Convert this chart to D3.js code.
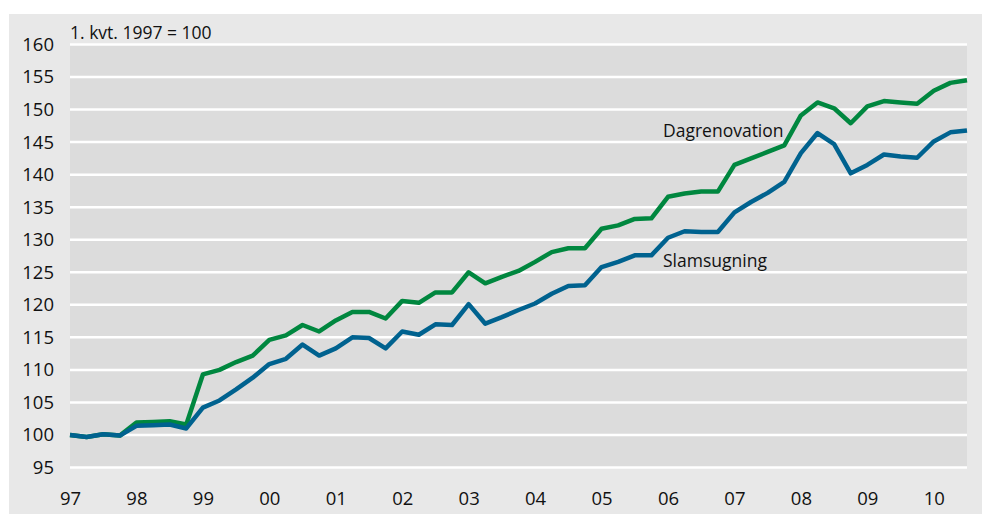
<!DOCTYPE html>
<html>
<head>
<meta charset="utf-8">
<script src="https://cdn.jsdelivr.net/npm/d3@7"></script>
<style>
  body { margin: 0; background: #fff; }
  text { font-family: "Open Sans", "Noto Sans", sans-serif; fill: #111; }
</style>
</head>
<body>
<div id="container"></div>
<script>
/* DATA - quarterly index, 1. kvt. 1997 = 100 */
const quarters = d3.range(55); // 1997Q1 .. 2010Q3
const yearLabels = ["97","98","99","00","01","02","03","04","05","06","07","08","09","10"];
const yTicks = [95,100,105,110,115,120,125,130,135,140,145,150,155,160];

const dagrenovation = [
  100, 99.7, 100.1, 99.9, 101.9, 102.0, 102.1, 101.6,
  109.3, 110.0, 111.2, 112.2, 114.6, 115.3, 116.9, 115.9,
  117.6, 118.9, 118.9, 117.9, 120.6, 120.3, 121.9, 121.9,
  125.0, 123.3, 124.3, 125.2, 126.6, 128.1, 128.7, 128.7,
  131.7, 132.2, 133.2, 133.3, 136.6, 137.1, 137.4, 137.4,
  141.5, 142.5, 143.5, 144.5, 149.1, 151.1, 150.2, 147.9,
  150.5, 151.3, 151.1, 150.9, 152.9, 154.1, 154.5
];
const slamsugning = [
  100, 99.7, 100.1, 99.9, 101.4, 101.5, 101.6, 101.0,
  104.2, 105.3, 107.0, 108.8, 110.9, 111.7, 113.9, 112.2,
  113.3, 115.0, 114.9, 113.3, 115.9, 115.4, 117.0, 116.9,
  120.1, 117.1, 118.1, 119.2, 120.2, 121.7, 122.9, 123.0,
  125.8, 126.6, 127.6, 127.6, 130.3, 131.3, 131.2, 131.2,
  134.2, 135.8, 137.2, 138.9, 143.3, 146.4, 144.7, 140.2,
  141.5, 143.1, 142.8, 142.6, 145.1, 146.5, 146.8
];

/* CONSTANTS */
const width = 982, height = 514;
const margin = { top: 44.5, right: 15, bottom: 46.5, left: 70 };
const innerW = width - margin.left - margin.right;
const innerH = height - margin.top - margin.bottom;

const svg = d3.select("#container")
  .append("svg")
  .attr("width", width)
  .attr("height", height);

// outer panel
svg.append("rect")
  .attr("x", 9).attr("y", 14)
  .attr("width", width - 9).attr("height", height - 14)
  .attr("fill", "#e8e8e8");

const g = svg.append("g")
  .attr("transform", `translate(${margin.left},${margin.top})`);

const x = d3.scaleLinear().domain([0, 54]).range([0, innerW]);
const y = d3.scaleLinear().domain([95, 160]).range([innerH, 0]);

// plot area
g.append("rect")
  .attr("width", innerW).attr("height", innerH)
  .attr("fill", "#dcdcdc");

// gridlines
g.selectAll(".grid")
  .data(yTicks)
  .enter().append("line")
  .attr("x1", 0).attr("x2", innerW)
  .attr("y1", d => y(d)).attr("y2", d => y(d))
  .attr("stroke", "#fff").attr("stroke-width", 2.5);

// y axis
const yAxis = g.append("g")
  .call(d3.axisLeft(y).tickValues(yTicks).tickSize(0).tickPadding(16));
yAxis.select(".domain").remove();
yAxis.selectAll("text").attr("font-size", 18.5).attr("fill", "#111")
  .style("font-family", '"Open Sans", sans-serif');

// x axis (labels at the first quarter of each year)
const xAxis = g.append("g")
  .attr("transform", `translate(0,${innerH})`)
  .call(d3.axisBottom(x)
    .tickValues(yearLabels.map((d, i) => i * 4))
    .tickFormat((d, i) => yearLabels[i])
    .tickSize(0).tickPadding(24));
xAxis.select(".domain").remove();
xAxis.selectAll("text").attr("font-size", 18.5).attr("fill", "#111")
  .style("font-family", '"Open Sans", sans-serif');

// lines
const line = d3.line()
  .x((d, i) => x(quarters[i]))
  .y(d => y(d));

g.append("path")
  .datum(dagrenovation)
  .attr("fill", "none")
  .attr("stroke", "#00873f")
  .attr("stroke-width", 4.5)
  .attr("stroke-linejoin", "round")
  .attr("d", line);

g.append("path")
  .datum(slamsugning)
  .attr("fill", "none")
  .attr("stroke", "#00628f")
  .attr("stroke-width", 4.5)
  .attr("stroke-linejoin", "round")
  .attr("d", line);

// labels
svg.append("text")
  .attr("x", 70).attr("y", 39)
  .attr("font-size", 17.5)
  .text("1. kvt. 1997 = 100");

svg.append("text")
  .attr("x", 663).attr("y", 137)
  .attr("font-size", 17.5)
  .text("Dagrenovation");

svg.append("text")
  .attr("x", 663).attr("y", 267)
  .attr("font-size", 17.5)
  .text("Slamsugning");
</script>
</body>
</html>
